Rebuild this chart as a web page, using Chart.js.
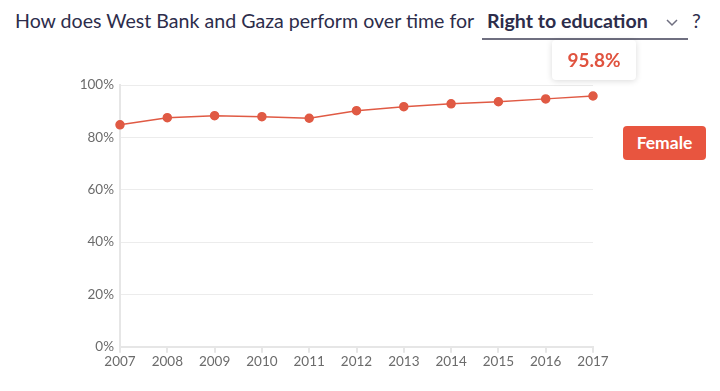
<!DOCTYPE html>
<html><head><meta charset="utf-8">
<script src="https://cdn.jsdelivr.net/npm/chart.js@4.4.0/dist/chart.umd.min.js"></script>
<style>
html,body{margin:0;padding:0;background:#fff;width:720px;height:391px;overflow:hidden;font-family:Lato,"Open Sans",sans-serif;}
#title{position:absolute;left:15px;top:9px;font-size:19.6px;color:#2d2d4b;white-space:nowrap;}
#sel{position:absolute;left:482px;top:9px;width:206px;height:29px;border-bottom:2px solid #6f6f80;}
#sel b{position:absolute;left:5px;top:0;font-size:19.6px;color:#2d2d4b;font-weight:700;}
#sel svg{position:absolute;left:184px;top:10px;}
#q{position:absolute;left:692px;top:9px;font-size:19.6px;color:#2d2d4b;}
#tip{position:absolute;left:552px;top:40px;width:84px;height:40px;background:#fff;border-radius:4px;box-shadow:0 1px 6px rgba(0,0,0,0.15);color:#e0533f;font-weight:700;font-size:19px;text-align:center;line-height:40px;}
#btn{position:absolute;left:623px;top:126px;width:83px;height:34px;background:#e8553f;border-radius:4px;color:#fff;font-weight:700;font-size:17.5px;text-align:center;line-height:34px;}
#wrap{position:absolute;left:0;top:66px;width:720px;height:325px;}
</style></head><body>
<div id="title">How does West Bank and Gaza perform over time for</div>
<div id="sel"><b>Right to education</b><svg width="12" height="8"><polyline points="1,1 6,6 11,1" fill="none" stroke="#6f6f80" stroke-width="1.5"/></svg></div>
<div id="q">?</div>
<div id="wrap"><canvas id="c"></canvas></div>
<div id="tip"></div>
<div id="btn">Female</div>
<script>
const years = ["2007","2008","2009","2010","2011","2012","2013","2014","2015","2016","2017"];
const female = [84.8, 87.5, 88.3, 87.9, 87.3, 90.2, 91.7, 92.8, 93.6, 94.7, 95.8];
const yTicks = [0, 20, 40, 60, 80, 100];
const seriesName = "Female";

document.getElementById('tip').textContent = female[female.length-1].toFixed(1) + '%';

new Chart(document.getElementById('c'), {
  type: 'line',
  data: { labels: years, datasets: [{ label: seriesName, data: female, borderColor: '#e05a44', backgroundColor: '#e05a44', borderWidth: 1.5, pointRadius: 4, pointHoverRadius: 4, tension: 0 }] },
  options: {
    responsive: true, maintainAspectRatio: false, animation: false,
    layout: { padding: { left: 0, right: 127, top: 19, bottom: 20 } },
    plugins: { legend: { display: false }, tooltip: { enabled: false } },
    scales: {
      x: {
        grid: { display: true, drawOnChartArea: false, drawTicks: true, tickLength: 6, color: '#e6e6e6', lineWidth: 2 },
        border: { color: '#e6e6e6', width: 2 },
        ticks: { color: '#6b6b6b', font: { family: 'Lato', size: 13.5 }, padding: 1, maxRotation: 0, autoSkip: false }
      },
      y: {
        min: 0, max: 100,
        afterBuildTicks: (s) => { s.ticks = yTicks.map(v => ({ value: v })); },
        afterFit: (s) => { s.width = 120; },
        grid: { color: '#ececec', drawTicks: false },
        border: { color: '#e6e6e6', width: 2 },
        ticks: { color: '#6b6b6b', font: { family: 'Lato', size: 13.5 }, padding: 6, callback: v => v + '%' }
      }
    }
  }
});
</script>
</body></html>
